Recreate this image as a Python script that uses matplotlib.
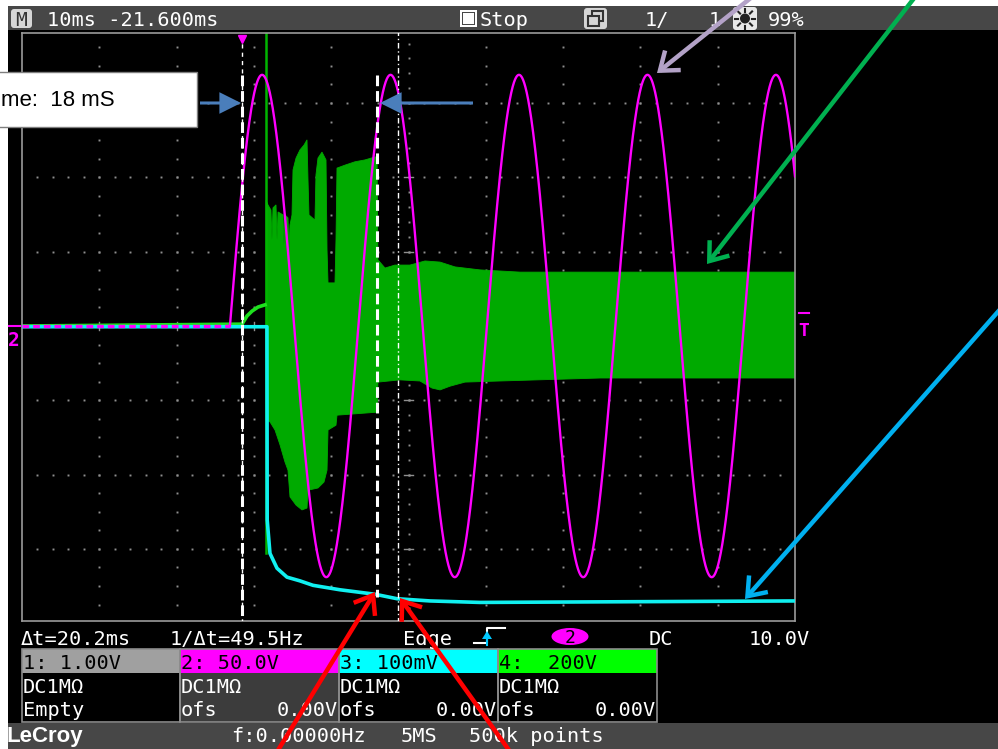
import matplotlib
matplotlib.use("Agg")
import matplotlib.pyplot as plt
from matplotlib.patches import Rectangle, FancyArrowPatch, Ellipse, FancyBboxPatch, Polygon
import numpy as np

W, H = 998, 749

ms_per_div = 10.0
ch2_V_per_div = 50.0
ch3_mV_per_div = 100.0
ch4_V_per_div = 200.0

# channel 2 (magenta) : line voltage sine
ch2_peak_V = 169.0
ch2_freq_Hz = 60.17
ch2_start_ms = 26.9

# channel 3 (cyan)
ch3_t_ms = [0.0, 31.69, 31.72, 32.08, 32.99, 34.28, 35.96, 37.65, 41.14, 45.67, 48.51, 52.78, 59.25, 100.0]
ch3_mV = [-1, -1, -261, -306, -326, -338, -343, -349, -355, -361, -367, -370, -372, -370]

# channel 4 (green) pre-burst trace
ch4_pre_t_ms = [0.0, 28.46, 29.11, 29.75, 30.53, 31.44]
ch4_pre_V = [0, 5, 27, 40, 51, 57]
ch4_spike_t_ms = 31.55
ch4_spike_V = [1100, -611]

# channel 4 envelope (dense oscillation)
ch4_up_t_ms = [31.57, 31.82, 32.21, 32.34, 32.47, 32.86, 32.99, 33.12, 33.77, 33.89, 34.02, 34.41,
               34.54, 34.67, 34.93, 35.06, 35.45, 35.96, 36.48, 36.87, 37.00, 37.13, 37.90, 38.03,
               38.29, 38.81, 39.33, 39.46, 39.59, 40.49, 40.62, 40.75, 41.79, 43.08, 44.37, 45.67,
               45.93, 46.05, 46.96, 48.25, 50.19, 52.13, 54.08, 56.02, 59.25, 64.42, 74.77, 87.71, 100.0]
ch4_up_V = [339, 326, 312, 232, 318, 326, 232, 307, 299, 218, 299, 291,
            205, 272, 299, 420, 452, 474, 487, 501, 393, 299, 285, 407,
            452, 468, 447, 205, 116, 116, 232, 425, 433, 442, 447, 455,
            455, 178, 156, 164, 164, 175, 172, 159, 151, 145, 145, 145, 145]
ch4_lo_t_ms = [31.57, 32.08, 32.73, 33.38, 34.02, 34.41, 34.67, 35.45, 36.22, 36.87, 37.00, 38.29,
               39.07, 39.46, 39.59, 40.62, 40.75, 45.93, 46.05, 48.90, 51.49, 53.04, 54.08, 55.37,
               57.31, 61.84, 74.77, 87.71, 100.0]
ch4_lo_V = [-253, -258, -280, -320, -366, -388, -460, -482, -495, -490, -442, -436,
            -420, -388, -280, -267, -240, -232, -151, -145, -148, -167, -172, -162,
            -151, -148, -140, -140, -140]

# cursors
cursor1_ms = 28.46
cursor_dt_ms = 20.2
note_t1_ms = 28.46
note_t2_ms = 45.92
note_text = "me:  18 mS"

# ---------------- figure ----------------
fig = plt.figure(figsize=(W / 100, H / 100), dpi=100, facecolor="white")

bg = fig.add_axes([0, 0, 1, 1], zorder=0)
bg.set_xlim(0, W)
bg.set_ylim(H, 0)
bg.axis("off")

MONO = "DejaVu Sans Mono"
FS = 14.6


def rect(ax, x0, y0, x1, y1, fc, ec="none", lw=0, z=1):
    ax.add_patch(Rectangle((x0, y0), x1 - x0, y1 - y0, facecolor=fc, edgecolor=ec, linewidth=lw, zorder=z))


def txt(ax, x, y, s, color="white", size=FS, ha="left", family=MONO, z=5, **kw):
    ax.text(x, y, s, color=color, fontsize=size, ha=ha, va="baseline", family=family, zorder=z, **kw)


# screen background
rect(bg, 8, 30, W, 723, "black")
rect(bg, 8, 6, W, 30, "#474747")
rect(bg, 8, 723, W, H, "#474747")

# header
bg.add_patch(FancyBboxPatch((11, 9), 21, 19, boxstyle="round,pad=0,rounding_size=3",
                            facecolor="#d6d6d6", edgecolor="none", zorder=2))
txt(bg, 21.5, 25.5, "M", color="#333333", size=14, ha="center")
txt(bg, 47, 26.5, "10ms -21.600ms")
rect(bg, 460, 10, 477, 27, "white", z=2)
rect(bg, 462, 12, 475, 25, "#474747", z=2)
rect(bg, 463, 13, 474, 24, "white", z=2)
txt(bg, 480, 26.5, "Stop")
bg.add_patch(FancyBboxPatch((584, 8), 23, 21, boxstyle="round,pad=0,rounding_size=3",
                            facecolor="#d6d6d6", edgecolor="none", zorder=2))
rect(bg, 592, 11, 603, 21, "none", ec="#333333", lw=1.5, z=3)
rect(bg, 588, 16, 599, 26, "#d6d6d6", ec="#333333", lw=1.5, z=3)
txt(bg, 645, 26.5, "1/")
txt(bg, 709, 26.5, "1")
bg.add_patch(FancyBboxPatch((733, 7), 24, 23, boxstyle="round,pad=0,rounding_size=3",
                            facecolor="#e8e8e8", edgecolor="none", zorder=2))
bg.add_patch(Ellipse((745, 18.5), 10, 10, facecolor="#222222", edgecolor="none", zorder=3))
for ang in np.arange(0, 360, 45):
    bg.plot([745 + 7 * np.cos(np.radians(ang)), 745 + 10 * np.cos(np.radians(ang))],
            [18.5 + 7 * np.sin(np.radians(ang)), 18.5 + 10 * np.sin(np.radians(ang))],
            color="#222222", lw=1.5, zorder=3)
txt(bg, 768, 26.5, "99%")

# status line
txt(bg, 21, 645, "Δt=20.2ms")
txt(bg, 170, 645, "1/Δt=49.5Hz")
txt(bg, 403, 645, "Edge")
bg.plot([474, 487, 487, 505], [643, 643, 628, 628], color="white", lw=1.5, zorder=3)
bg.add_patch(Polygon([[482, 639], [492, 639], [487, 631]], closed=True, facecolor="#00c8ff", zorder=4))
bg.plot([487, 487], [637, 645], color="#00c8ff", lw=1.5, zorder=4)
bg.add_patch(Ellipse((570, 636.5), 37, 17, facecolor="#ff00ff", edgecolor="none", zorder=3))
txt(bg, 570, 643, "2", color="black", size=13, ha="center")
txt(bg, 649, 645, "DC")
txt(bg, 749, 645, "10.0V")

# channel boxes
col_x = [22, 180, 339, 498, 657]
head_cols = ["#a0a0a0", "#ff00ff", "#00ffff", "#00ff00"]
body_cols = ["black", "#3c3c3c", "black", "black"]
head_txt = ["1: 1.00V", "2: 50.0V", "3: 100mV", "4:  200V"]
for i in range(4):
    x0, x1 = col_x[i], col_x[i + 1]
    rect(bg, x0, 649, x1, 673, head_cols[i], z=2)
    rect(bg, x0, 673, x1, 722, body_cols[i], z=2)
    rect(bg, x0, 649, x1, 722, "none", ec="#8c8c8c", lw=1.2, z=3)
    txt(bg, x0 + 1, 669, head_txt[i], color="black")
    txt(bg, x0 + 1, 693, "DC1MΩ")
    if i == 0:
        txt(bg, x0 + 1, 716, "Empty")
    else:
        txt(bg, x0 + 1, 716, "ofs")
        txt(bg, x1 - 1, 716, "0.00V", ha="right")

# bottom bar
txt(bg, 7, 742, "LeCroy", family="Liberation Sans", size=16, weight="bold")
txt(bg, 231, 742, "f:0.00000Hz")
txt(bg, 401, 742, "5MS")
txt(bg, 469, 742, "500k points")

# channel markers
txt(bg, 14, 346, "2", color="#ff00ff", size=14, ha="center", weight="bold")
bg.plot([9, 20], [326, 326], color="#ff00ff", lw=1.5, zorder=3)
txt(bg, 804, 336, "T", color="#ff00ff", size=13, ha="center", weight="bold")
bg.plot([799, 809], [313, 313], color="#ff00ff", lw=1.5, zorder=3)

# ---------------- scope graticule ----------------
ax = fig.add_axes([22 / W, 1 - 621 / H, 773 / W, 588 / H], zorder=1)
ax.set_facecolor("black")
ax.set_xlim(0, 100)
ax.set_ylim(-3.970, 3.943)
ax.set_xticks([])
ax.set_yticks([])
for sp in ax.spines.values():
    sp.set_color("#9a9a9a")
    sp.set_linewidth(1.2)

dot_c = "#8f8f8f"
gx, gy = [], []
for t in np.arange(10, 100, 10):
    if t == 50:
        continue
    for yv in np.arange(-15, 16) * 0.25:
        gx.append(t); gy.append(yv)
for yv in range(-3, 4):
    if yv == 0:
        continue
    for t in np.arange(2, 100, 2):
        gx.append(t); gy.append(yv)
for t in np.arange(2, 100, 2):
    gx.append(t); gy.append(0)
for yv in np.arange(-19, 20) * 0.2:
    gx.append(50); gy.append(yv)
ax.plot(gx, gy, ls="", marker="s", ms=1.4, mfc=dot_c, mec="none", zorder=1)
for t in np.arange(10, 100, 10):
    ax.plot([t, t], [-0.06, 0.06], color=dot_c, lw=1, zorder=1)
for yv in range(-3, 4):
    ax.plot([49.4, 50.6], [yv, yv], color=dot_c, lw=1, zorder=1)

# ---------------- traces ----------------
# channel 4 (green)
up = list(zip(ch4_up_t_ms, np.array(ch4_up_V) / ch4_V_per_div))
lo = list(zip(ch4_lo_t_ms, np.array(ch4_lo_V) / ch4_V_per_div))
ax.add_patch(Polygon(up + lo[::-1], closed=True, facecolor="#00aa00", edgecolor="#00aa00",
                     lw=0.6, zorder=2))
ax.plot([ch4_spike_t_ms, ch4_spike_t_ms], np.array(ch4_spike_V) / ch4_V_per_div,
        color="#00b400", lw=1.8, zorder=2)
ax.plot(ch4_pre_t_ms, np.array(ch4_pre_V) / ch4_V_per_div, color="#1ee01e", lw=2.6, zorder=2)

# channel 3 (cyan)
ax.plot(ch3_t_ms, np.array(ch3_mV) / ch3_mV_per_div, color="#10f0f0", lw=2.6, zorder=3,
        solid_joinstyle="round")

# channel 2 (magenta)
t2 = np.linspace(ch2_start_ms, 100, 4000)
v2 = ch2_peak_V * np.sin(2 * np.pi * ch2_freq_Hz * (t2 - ch2_start_ms) / 1000.0)
ax.plot([0, ch2_start_ms], [0, 0], color="#ff00ff", lw=2.4, zorder=4, dashes=(2.0, 1.2))
ax.plot(t2, v2 / ch2_V_per_div, color="#ff00ff", lw=1.7, zorder=4)

# scope cursors
ax.plot([cursor1_ms, cursor1_ms], [-4, 4], color="white", lw=1.0, dashes=(3, 3), zorder=5)
ax.plot([cursor1_ms + cursor_dt_ms] * 2, [-4, 4], color="white", lw=1.0,
        dashes=(4, 2, 1, 2), zorder=5)
ax.plot([cursor1_ms], [3.86], ls="", marker="v", ms=6, color="#ff00ff", zorder=6, clip_on=False)

# user overlay dashed lines
ax.plot([note_t1_ms] * 2, [3.38, -3.93], color="white", lw=2.2, dashes=(3.5, 1.6), zorder=6)
ax.plot([note_t2_ms] * 2, [3.38, -3.65], color="white", lw=2.2, dashes=(3.5, 1.6), zorder=6)

# ---------------- annotation overlay ----------------
ov = fig.add_axes([0, 0, 1, 1], zorder=3)
ov.set_xlim(0, W)
ov.set_ylim(H, 0)
ov.axis("off")
ov.patch.set_alpha(0)

ov.add_patch(Rectangle((-5, 72), 202, 55, facecolor="white", edgecolor="#7f7f7f", lw=1, zorder=2))
ov.text(1, 100, note_text, fontsize=16, family="Liberation Sans", color="black",
        ha="left", va="center", zorder=3)


def arrow(p0, p1, color, lw, style):
    ov.add_patch(FancyArrowPatch(p0, p1, arrowstyle=style, color=color, lw=lw,
                                 mutation_scale=20, shrinkA=0, shrinkB=0, zorder=4,
                                 joinstyle="miter", capstyle="butt"))


blue = "#4a7ebb"
arrow((200, 103), (241, 103), blue, 2.2, "-|>,head_length=0.6,head_width=0.3")
arrow((473, 103), (380, 103), blue, 2.2, "-|>,head_length=0.6,head_width=0.3")
open_head = "->,head_length=0.6,head_width=0.45"
arrow((752, -3), (657, 73), "#b3a2c7", 3.2, open_head)
arrow((915, -3), (707, 264), "#00b050", 3.2, open_head)
arrow((1003, 306), (745, 599), "#00b0f0", 3.2, open_head)
arrow((272, 760), (375, 592), "#ff0000", 3.2, open_head)
arrow((516, 760), (400, 598), "#ff0000", 3.2, open_head)

fig.savefig("out.png", dpi=100, facecolor="white")
